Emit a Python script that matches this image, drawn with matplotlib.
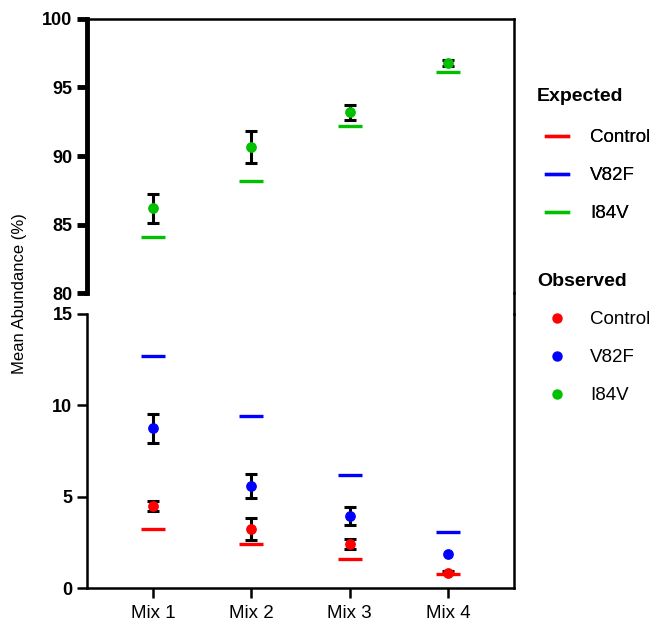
import matplotlib.pyplot as plt
from matplotlib.lines import Line2D

plt.rcParams['font.family'] = ['Liberation Sans', 'DejaVu Sans']

mixes = ['Mix 1', 'Mix 2', 'Mix 3', 'Mix 4']
series = ['Control', 'V82F', 'I84V']
colors = ['#ff0000', '#0000ff', '#00c000']

# expected values
exp_control = [3.23, 2.39, 1.59, 0.78]
exp_v82f = [12.7, 9.4, 6.2, 3.08]
exp_i84v = [84.1, 88.2, 92.2, 96.15]

# observed means and errors
obs_control = [4.49, 3.23, 2.41, 0.84]
obs_control_err = [0.27, 0.62, 0.26, 0.08]
obs_v82f = [8.74, 5.57, 3.94, 1.86]
obs_v82f_err = [0.8, 0.67, 0.5, 0.0]
obs_i84v = [86.2, 90.65, 93.2, 96.8]
obs_i84v_err = [1.05, 1.15, 0.55, 0.2]

expected = [exp_control, exp_v82f, exp_i84v]
observed = [obs_control, obs_v82f, obs_i84v]
observed_err = [obs_control_err, obs_v82f_err, obs_i84v_err]

fig = plt.figure(figsize=(6.52, 6.21), dpi=100)
L, W = 0.1334, 0.655
ax_top = fig.add_axes([L, 0.528, W, 0.4415])
ax_bot = fig.add_axes([L, 0.0531, W, 0.4415])

x = list(range(1, len(mixes) + 1))
for ax in (ax_top, ax_bot):
    for e, o, oe, c in zip(expected, observed, observed_err, colors):
        # skip zero-size error bars
        xs = [xi for xi, er in zip(x, oe) if er > 0]
        ys = [yi for yi, er in zip(o, oe) if er > 0]
        es = [er for er in oe if er > 0]
        ax.errorbar(xs, ys, yerr=es, fmt='none', ecolor='black', elinewidth=2.2,
                    capsize=4, capthick=2.2, zorder=2)
        ax.scatter(x, e, marker='_', s=290, linewidths=2.4, color=c, zorder=3)
        ax.scatter(x, o, s=45, color=c, zorder=4)
    ax.set_xlim(0.33, 4.67)
    for s in ax.spines.values():
        s.set_linewidth(1.8)

ax_top.set_ylim(80, 100)
ax_top.set_yticks([80, 85, 90, 95, 100])
ax_top.spines['bottom'].set_visible(False)
ax_top.spines['left'].set_linewidth(3.5)
ax_top.tick_params(axis='x', bottom=False, labelbottom=False)
ax_top.tick_params(axis='y', width=3.5, length=7)

ax_bot.set_ylim(0, 15)
ax_bot.set_yticks([0, 5, 10, 15])
ax_bot.spines['top'].set_visible(False)
ax_bot.set_xticks(x)
ax_bot.set_xticklabels(mixes, fontsize=13.5)
ax_bot.tick_params(axis='x', width=1.8, length=7, pad=5)
ax_bot.tick_params(axis='y', width=1.8, length=7)

for ax in (ax_top, ax_bot):
    for lab in ax.get_yticklabels():
        lab.set_fontsize(13)
        lab.set_fontweight('bold')

# continue right spine across the break
fig.add_artist(Line2D([L + W, L + W], [0.0531 + 0.4415, 0.528], color='black',
                      linewidth=1.8, transform=fig.transFigure))

fig.text(0.030, 0.527, 'Mean Abundance (%)', rotation=90, va='center',
         ha='center', fontsize=12)

# legends
fig.text(0.8236, 0.844, 'Expected', fontsize=14, fontweight='bold', va='center')
fig.text(0.8236, 0.546, 'Observed', fontsize=14, fontweight='bold', va='center')

exp_handles = [Line2D([], [], color=c, lw=2.4) for c in colors]
obs_handles = [Line2D([], [], color=c, marker='o', ls='none', ms=6.5) for c in colors]
leg_kw = dict(loc='upper left', frameon=False, fontsize=13.5, borderpad=0,
              borderaxespad=0, handlelength=1.17, handletextpad=1.17,
              labelspacing=1.11)
leg1 = fig.legend(exp_handles, series, bbox_to_anchor=(0.8374, 0.792), **leg_kw)
fig.add_artist(leg1)
fig.legend(obs_handles, series, bbox_to_anchor=(0.8374, 0.499), **leg_kw)

fig.savefig('out.png', dpi=100)
